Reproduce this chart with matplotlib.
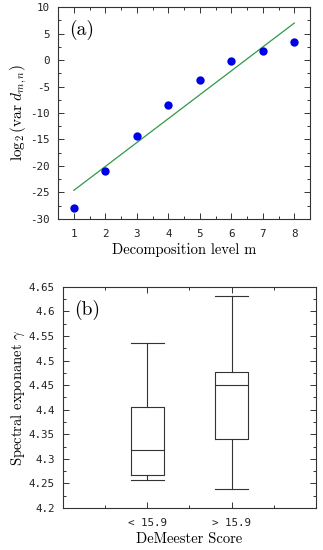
import matplotlib
matplotlib.use("Agg")
import matplotlib.pyplot as plt
from matplotlib.ticker import MultipleLocator

plt.rcParams['mathtext.fontset'] = 'cm'
plt.rcParams['axes.formatter.use_mathtext'] = False

# Panel (a) data
levels = [1, 2, 3, 4, 5, 6, 7, 8]
log2var = [-27.9, -21.0, -14.4, -8.4, -3.7, -0.2, 1.8, 3.5]
fit_x = [1, 8]
fit_y = [-24.6, 7.0]

# Panel (b) data
groups = ['< 15.9', '> 15.9']
whislo = [4.257, 4.239]
q1 = [4.268, 4.341]
med = [4.317, 4.451]
q3 = [4.405, 4.477]
whishi = [4.535, 4.631]

fig = plt.figure(figsize=(3.23, 5.50), dpi=100)
tickfont = dict(family='DejaVu Sans Mono', size=7.8)
labfont = dict(family='cmr10', size=10.5)

def style(ax):
    ax.tick_params(which='both', direction='in', top=True, right=True,
                   color='#333333', width=0.7)
    ax.tick_params(which='major', length=4)
    ax.tick_params(axis='x', which='major', pad=7)
    ax.tick_params(axis='y', which='major', pad=6)
    ax.tick_params(which='minor', length=2.5)
    for s in ax.spines.values():
        s.set_linewidth(0.8)
        s.set_color('#333333')
    for lab in ax.get_xticklabels() + ax.get_yticklabels():
        lab.set_fontfamily(tickfont['family'])
        lab.set_fontsize(tickfont['size'])
        lab.set_color('#222222')

# (a)
ax1 = fig.add_axes([0.180, 0.602, 0.780, 0.385])
ax1.plot(fit_x, fit_y, color='#2e9a42', lw=0.9)
ax1.plot(levels, log2var, 'o', color='#0000e6', ms=6, mec='none')
ax1.set_xlim(0.5, 8.5)
ax1.set_ylim(-30, 10)
ax1.xaxis.set_minor_locator(MultipleLocator(0.5))
ax1.yaxis.set_minor_locator(MultipleLocator(2.5))
ax1.set_xticks(levels)
ax1.set_xticklabels([str(v) for v in levels])
yt = list(range(-30, 11, 5))
ax1.set_yticks(yt)
ax1.set_yticklabels([str(v) for v in yt])
style(ax1)
ax1.set_xlabel('Decomposition level m', fontdict=labfont, labelpad=3)
ax1.set_ylabel(r'$\log_2(\mathrm{var}\ d_{m,n})$', fontsize=11, labelpad=1)
ax1.text(0.045, 0.94, '(a)', transform=ax1.transAxes, family='cmr10',
         fontsize=14, va='top', ha='left')

# (b)
ax2 = fig.add_axes([0.195, 0.0764, 0.783, 0.402])
stats = []
for i in range(len(groups)):
    stats.append(dict(label=groups[i], whislo=whislo[i], q1=q1[i], med=med[i],
                      q3=q3[i], whishi=whishi[i], fliers=[]))
lc = '#333333'
ax2.bxp(stats, positions=[1, 2], widths=0.39, showfliers=False,
        boxprops=dict(color=lc, lw=0.8),
        medianprops=dict(color=lc, lw=0.8),
        whiskerprops=dict(color=lc, lw=0.8),
        capprops=dict(color=lc, lw=0.8), capwidths=0.39)
ax2.set_xlim(0, 3)
ax2.set_ylim(4.2, 4.65)
ax2.xaxis.set_minor_locator(MultipleLocator(0.5))
yt2 = [4.2, 4.25, 4.3, 4.35, 4.4, 4.45, 4.5, 4.55, 4.6, 4.65]
ax2.set_yticks(yt2)
ax2.set_yticklabels([('%.2f' % v).rstrip('0').rstrip('.') for v in yt2])
ax2.yaxis.set_minor_locator(MultipleLocator(0.025))
ax2.set_xticks([1, 2])
ax2.set_xticklabels(groups)
style(ax2)
ax2.set_xlabel('DeMeester Score', fontdict=labfont, labelpad=3)
ax2.set_ylabel(r'Spectral exponanet $\gamma$', fontdict=labfont, labelpad=1)
ax2.text(0.045, 0.94, '(b)', transform=ax2.transAxes, family='cmr10',
         fontsize=14, va='top', ha='left')

fig.savefig('out.png', dpi=100)
